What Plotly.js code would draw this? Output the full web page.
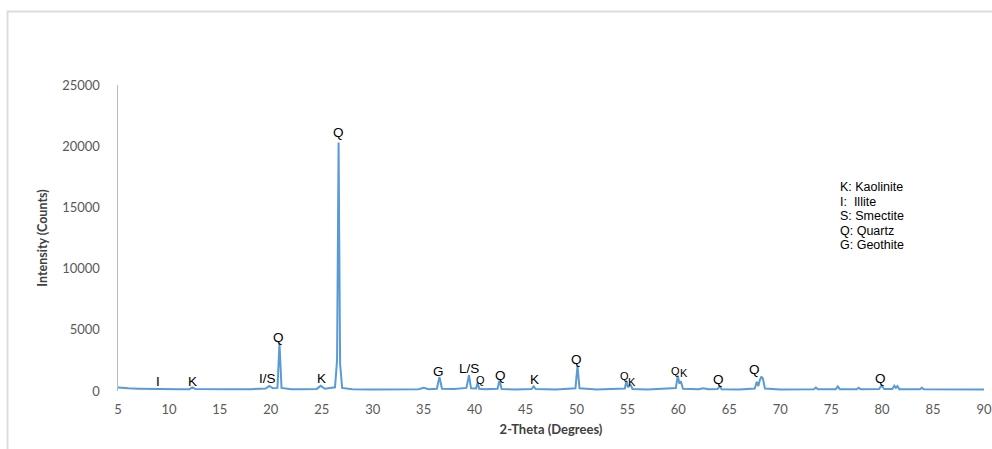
<!DOCTYPE html>
<html>
<head>
<meta charset="utf-8">
<script src="https://cdn.plot.ly/plotly-3.0.1.min.js"></script>
<style>
html,body{margin:0;padding:0;background:#fff;}
#chart{width:992px;height:449px;}
</style>
</head>
<body>
<div id="chart"></div>
<script>
const twoTheta = [5, 5.5, 6, 7, 8, 8.7, 8.85, 9.0, 10, 11, 12.0, 12.3, 12.6, 14, 16, 18, 19.5, 19.85, 20.2, 20.65, 20.85, 21.05, 22, 23, 24.5, 24.9, 25.3, 26.3, 26.5, 26.65, 26.8, 27.0, 28, 30, 32, 34.5, 35.0, 35.5, 36.3, 36.55, 36.8, 38, 39.2, 39.45, 39.65, 40.15, 40.3, 40.45, 41, 42.25, 42.45, 42.65, 44, 45.6, 45.8, 46.0, 48, 49.9, 50.1, 50.3, 52, 54.75, 54.9, 55.05, 55.3, 55.5, 57, 59.75, 59.95, 60.1, 60.25, 60.45, 62, 62.4, 63, 63.85, 64.05, 64.25, 66, 67.5, 67.7, 67.85, 68.0, 68.15, 68.3, 68.5, 70, 73.3, 73.5, 73.7, 75.45, 75.65, 75.85, 77.5, 77.7, 77.9, 79.7, 79.95, 80.2, 81.0, 81.2, 81.35, 81.5, 81.7, 83.7, 83.9, 84.1, 86, 88, 90];
const intensity = [280, 240, 220, 190, 170, 160, 210, 160, 150, 145, 150, 300, 160, 140, 140, 150, 200, 420, 220, 250, 3900, 250, 150, 140, 170, 420, 180, 300, 2500, 20300, 2200, 250, 140, 130, 130, 150, 260, 150, 180, 1150, 180, 160, 250, 1300, 220, 200, 700, 180, 150, 180, 850, 170, 130, 160, 380, 160, 130, 220, 2050, 220, 130, 200, 850, 300, 520, 160, 130, 250, 1250, 600, 800, 180, 150, 230, 140, 160, 380, 150, 130, 200, 750, 400, 900, 1180, 1000, 200, 130, 140, 280, 140, 150, 380, 150, 140, 260, 140, 160, 450, 160, 160, 420, 250, 400, 150, 140, 260, 140, 130, 130, 130];

// Peak labels
const peakText = ["I", "K", "I/S", "Q", "K", "Q", "G", "L/S", "Q", "Q", "K", "Q", "Q", "K", "Q", "K", "Q", "Q", "Q"];
const peakX    = [8.9, 12.3, 19.7, 20.8, 25.0, 26.6, 36.5, 39.5, 40.55, 42.5, 45.9, 50.05, 54.7, 55.45, 59.75, 60.55, 63.9, 67.5, 79.8];
const peakY    = [800, 800, 1060, 4400, 1060, 21080, 1630, 1800, 900, 1300, 900, 2610, 1220, 750, 1630, 1470, 900, 1720, 1060];
const peakSmall = [false, false, false, false, false, false, false, false, true, false, false, false, true, true, true, true, false, false, false];

const legendLines = ["K: Kaolinite", "I:  Illite", "S: Smectite", "Q: Quartz", "G: Geothite"];

const yTicks = [0, 5000, 10000, 15000, 20000, 25000];
const xTicks = [5, 10, 15, 20, 25, 30, 35, 40, 45, 50, 55, 60, 65, 70, 75, 80, 85, 90];

const trace = {
  x: twoTheta, y: intensity, type: 'scatter', mode: 'lines',
  line: {color: '#5b9bd5', width: 2}, hoverinfo: 'x+y'
};

const annotations = peakText.map((t, i) => ({
  x: peakX[i], y: peakY[i], xref: 'x', yref: 'y', text: t, showarrow: false,
  font: {family: 'Liberation Sans, Arial, sans-serif', size: peakSmall[i] ? 11 : 13.5, color: '#000'},
  xanchor: 'center', yanchor: 'middle'
}));

const plotW = 866, plotH = 306;
legendLines.forEach((t, i) => {
  annotations.push({
    xref: 'paper', yref: 'paper', x: (838 - 118) / plotW, y: (391 - (187 + i * 14.5)) / plotH,
    xanchor: 'left', yanchor: 'middle', align: 'left', showarrow: false,
    text: t.replace(/  /g, ' &nbsp;'),
    font: {family: 'Liberation Sans, Arial, sans-serif', size: 12.5, color: '#000'}
  });
});

const layout = {
  width: 992, height: 449,
  margin: {l: 118, r: 8, t: 85, b: 58, pad: 0},
  paper_bgcolor: '#fff', plot_bgcolor: '#fff',
  showlegend: false,
  xaxis: {
    range: [5, 90], tickvals: xTicks, ticktext: xTicks.map(String),
    showgrid: false, zeroline: false, showline: false,
    ticks: 'outside', ticklen: 6, tickcolor: 'rgba(0,0,0,0)',
    tickfont: {family: 'Lato, sans-serif', size: 13, color: '#595959'},
    title: {text: '<b>2-Theta (Degrees)</b>', standoff: 9,
            font: {family: 'Lato, sans-serif', size: 13, color: '#404040'}},
    fixedrange: true
  },
  yaxis: {
    range: [0, 25000], tickvals: yTicks, ticktext: yTicks.map(String),
    showgrid: false, zeroline: false,
    showline: true, linecolor: '#a9bcdc', linewidth: 1.5,
    ticks: 'outside', ticklen: 14, tickcolor: 'rgba(0,0,0,0)',
    tickfont: {family: 'Lato, sans-serif', size: 13, color: '#595959'},
    title: {text: '<b>Intensity (Counts)</b>', standoff: 12,
            font: {family: 'Lato, sans-serif', size: 12.5, color: '#404040'}},
    fixedrange: true
  },
  annotations: annotations,
  shapes: [{
    type: 'rect', xref: 'paper', yref: 'paper', layer: 'below',
    x0: (7.5 - 118) / plotW, x1: (1000 - 118) / plotW,
    y0: (391 - 460) / plotH, y1: (391 - 11.5) / plotH,
    line: {color: '#d9dde3', width: 2}, fillcolor: 'rgba(0,0,0,0)'
  }]
};

Plotly.newPlot('chart', [trace], layout, {displayModeBar: false, staticPlot: true});
</script>
</body>
</html>
